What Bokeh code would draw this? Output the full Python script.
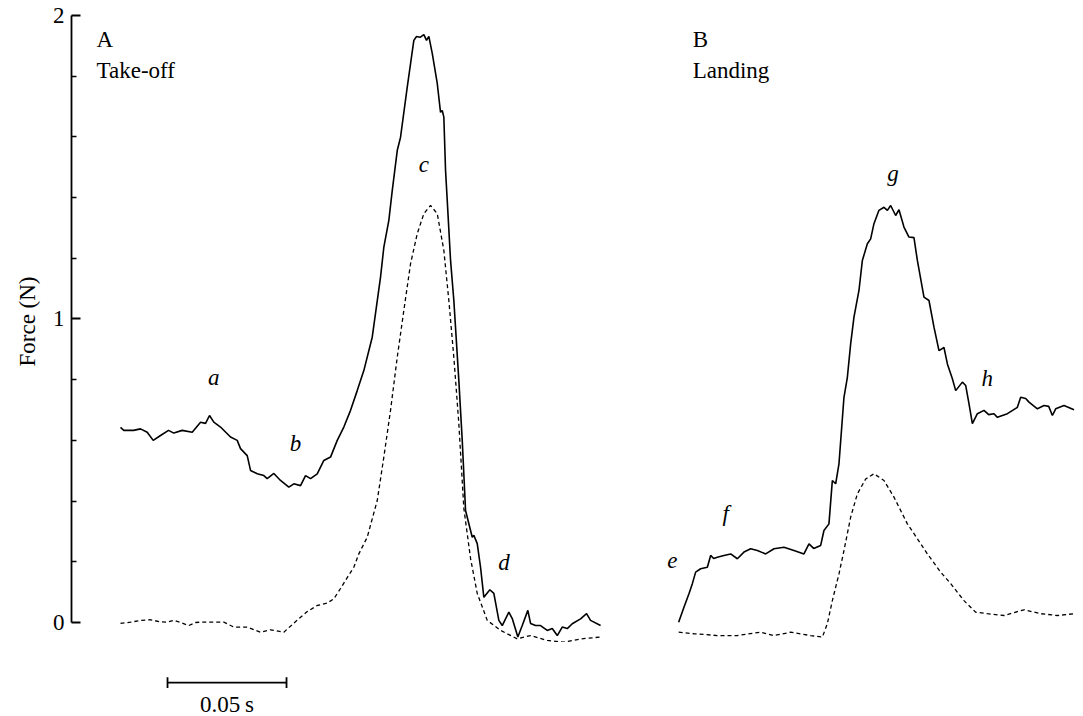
from bokeh.plotting import figure
from bokeh.layouts import column
from bokeh.models import Range1d, FixedTicker, ColumnDataSource
from bokeh.embed import file_html
from bokeh.resources import INLINE
from bokeh.core.properties import value

# ---------------- data (time in ms from start of each record, force in N) ----------------
# Panel A: take-off
a_solid_t = [0.0, 1.39, 5.46, 8.40, 11.22, 13.74, 16.81, 20.17, 22.40, 25.93, 30.13, 33.62, 35.72,
             37.40, 39.20, 42.02, 46.22, 49.04, 50.42, 53.24, 54.63, 57.44, 60.21, 61.64, 64.42,
             67.23, 70.72, 72.82, 75.64, 77.74, 79.84, 82.65, 85.43, 88.24, 91.06, 93.83, 96.65,
             99.46, 102.23, 105.76, 109.25, 110.64, 112.74, 114.17, 116.27, 117.66, 120.47, 123.24,
             124.38, 125.85, 127.44, 128.58, 129.55, 130.98, 133.08, 134.46, 135.18, 135.85, 136.57,
             137.28, 138.67, 140.05, 142.15, 143.58, 144.97, 147.78, 148.46, 149.88, 151.27, 152.66,
             155.18, 156.86, 158.96, 160.39, 163.16, 164.59, 166.94, 168.79, 171.14, 172.28, 174.38,
             176.48, 179.30, 181.40, 183.50, 185.60, 187.70, 189.80, 193.29, 195.81, 197.49, 201.70]
a_solid_f = [0.643, 0.633, 0.633, 0.638, 0.627, 0.600, 0.616, 0.633, 0.624, 0.633, 0.627, 0.660, 0.656,
             0.682, 0.660, 0.644, 0.611, 0.600, 0.573, 0.550, 0.501, 0.490, 0.484, 0.474, 0.491,
             0.468, 0.446, 0.457, 0.451, 0.484, 0.474, 0.490, 0.534, 0.545, 0.600, 0.644, 0.699,
             0.764, 0.830, 0.940, 1.138, 1.237, 1.325, 1.423, 1.555, 1.599, 1.764, 1.918,
             1.931, 1.928, 1.937, 1.918, 1.931, 1.875, 1.776, 1.681, 1.687, 1.665, 1.489,
             1.390, 1.193, 1.061, 0.797, 0.600, 0.369, 0.281, 0.287, 0.260, 0.182, 0.083,
             0.108, 0.096, 0.007, -0.010, 0.034, 0.013, -0.048, -0.010, 0.040, -0.003, -0.010,
             -0.010, -0.026, -0.020, -0.043, -0.015, -0.020, -0.004, 0.012, 0.029, 0.007, -0.010]
a_dot_t = [0, 4.20, 8.40, 12.61, 16.81, 19.62, 22.40, 25.21, 28.70, 31.52, 33.62, 37.82, 43.41, 47.61,
           53.24, 58.83, 63.03, 68.62, 72.82, 78.45, 82.65, 86.85, 89.63, 92.44, 95.26, 98.03, 100.13,
           103.66, 107.87, 110.64, 113.45, 116.27, 119.04, 121.86, 124.67, 127.44, 130.26, 133.08,
           135.85, 137.95, 140.05, 142.15, 144.25, 147.07, 149.88, 154.09, 159.68, 166.69, 172.28,
           179.30, 186.28, 193.29, 201.70]
a_dot_f = [-0.003, 0.001, 0.007, 0.009, 0.002, 0.001, 0.007, 0.000, -0.010, 0.000, 0.001, 0.001, 0.001,
           -0.015, -0.015, -0.032, -0.024, -0.032, -0.002, 0.036, 0.056, 0.064, 0.078, 0.112, 0.148,
           0.182, 0.226, 0.281, 0.402, 0.545, 0.699, 0.874, 1.028, 1.182, 1.281, 1.347, 1.374, 1.347,
           1.226, 1.061, 0.874, 0.655, 0.376, 0.211, 0.096, 0.007, -0.026, -0.054, -0.043, -0.059,
           -0.065, -0.054, -0.048]

# Panel B: landing
b_solid_t = [0.0, 2.23, 4.33, 5.76, 7.14, 9.24, 12.06, 13.45, 14.71, 16.26, 19.04, 21.85, 24.67, 27.44,
             30.26, 33.07, 36.56, 40.05, 44.25, 48.45, 52.65, 54.76, 56.73, 59.67, 61.05, 63.15, 64.58,
             65.97, 67.36, 69.46, 70.89, 72.27, 73.66, 75.76, 77.19, 79.29, 80.68, 82.06, 84.16, 86.27,
             87.70, 89.08, 91.18, 92.57, 94.67, 96.77, 98.87, 100.30, 103.07, 105.18, 107.28, 109.38,
             111.48, 112.91, 115.01, 116.40, 119.21, 120.60, 121.98, 123.41, 125.51, 128.29, 130.26,
             132.49, 133.92, 138.12, 142.32, 143.71, 145.81, 147.20, 150.73, 153.50, 155.48, 157.03,
             158.42, 161.91, 166.11]
b_solid_f = [0.001, 0.050, 0.095, 0.128, 0.166, 0.177, 0.182, 0.221, 0.211, 0.215, 0.221, 0.226, 0.210,
             0.232, 0.243, 0.237, 0.226, 0.243, 0.248, 0.237, 0.226, 0.259, 0.244, 0.254, 0.303, 0.325,
             0.468, 0.457, 0.523, 0.742, 0.808, 0.918, 1.006, 1.094, 1.193, 1.248, 1.264, 1.314, 1.358,
             1.368, 1.358, 1.374, 1.341, 1.360, 1.303, 1.270, 1.268, 1.193, 1.072, 1.061, 0.973, 0.896,
             0.906, 0.852, 0.803, 0.764, 0.792, 0.781, 0.721, 0.655, 0.688, 0.699, 0.685, 0.688, 0.676,
             0.688, 0.709, 0.742, 0.738, 0.726, 0.704, 0.715, 0.712, 0.682, 0.704, 0.715, 0.701]
b_dot_t = [0, 6.43, 16.26, 24.67, 34.46, 40.05, 47.06, 55.46, 60.38, 62.48, 64.58, 67.36, 69.46, 72.27,
           75.09, 78.58, 82.06, 86.27, 90.47, 96.10, 100.30, 104.50, 110.09, 114.29, 119.88, 124.80,
           129.72, 136.69, 145.09, 152.11, 159.12, 166.11]
b_dot_f = [-0.032, -0.037, -0.043, -0.043, -0.032, -0.043, -0.032, -0.043, -0.048, -0.004, 0.072, 0.160,
           0.237, 0.347, 0.424, 0.473, 0.490, 0.468, 0.413, 0.325, 0.276, 0.226, 0.166, 0.128, 0.072,
           0.034, 0.029, 0.023, 0.042, 0.029, 0.023, 0.029]

B_OFFSET = 234.5  # ms, horizontal placement of panel B

# phase letters (letter, time ms, force N)
a_letters = ["a", "b", "c", "d"]
a_letter_t = [39.2, 73.5, 127.4, 161.1]
a_letter_f = [0.784, 0.567, 1.487, 0.174]
b_letters = ["e", "f", "g", "h"]
b_letter_t = [-2.65, 19.75, 90.07, 129.7]
b_letter_f = [0.182, 0.336, 1.456, 0.781]

panel_titles = ["A", "Take-off", "B", "Landing"]

y_ticks = [0, 1, 2]
y_minor = [0.2, 0.4, 0.6, 0.8, 1.2, 1.4, 1.6, 1.8]
y_label = "Force (N)"

SCALE_START, SCALE_LEN = 19.75, 50.0   # ms
SCALE_Y = -0.198
scale_text = "0.05\u2009s"

# ---------------- figures ----------------
FONT = "Liberation Serif"
FS = "23px"
TXT_DY = -7   # px correction of the SVG text baseline

x_rng = Range1d(-20.59, 404.6)

p = figure(width=1083, height=642, output_backend="svg", toolbar_location=None,
           x_range=x_rng, y_range=Range1d(-0.0659, 2.0494),
           x_axis_location=None, y_axis_location="left",
           min_border_left=71, min_border_right=0, min_border_top=0, min_border_bottom=0)
p.outline_line_color = None
p.grid.visible = False
p.background_fill_color = "white"
p.border_fill_color = "white"

ax = p.yaxis[0]
ax.bounds = (0, 2)
ax.ticker = FixedTicker(ticks=y_ticks, minor_ticks=y_minor)
ax.major_tick_in = 9
ax.major_tick_out = 0
ax.minor_tick_in = 5
ax.minor_tick_out = 0
ax.axis_line_width = 1.8
ax.major_tick_line_width = 1.8
ax.minor_tick_line_width = 1.5
ax.axis_line_color = "black"
ax.major_tick_line_color = "black"
ax.minor_tick_line_color = "black"
ax.major_label_text_font = FONT
ax.major_label_text_font_size = FS
ax.major_label_text_color = "black"
ax.major_label_standoff = 7
ax.axis_label = y_label
ax.axis_label_text_font = FONT
ax.axis_label_text_font_size = FS
ax.axis_label_text_font_style = "normal"
ax.axis_label_text_color = "black"
ax.axis_label_standoff = 10

# traces
p.line(a_solid_t, a_solid_f, line_color="black", line_width=1.6)
p.line(a_dot_t, a_dot_f, line_color="black", line_width=1.3, line_dash="4 3")
p.line([t + B_OFFSET for t in b_solid_t], b_solid_f, line_color="black", line_width=1.6)
p.line([t + B_OFFSET for t in b_dot_t], b_dot_f, line_color="black", line_width=1.3, line_dash="4 3")

# phase letters
letters_src = ColumnDataSource(dict(
    x=a_letter_t + [t + B_OFFSET for t in b_letter_t],
    y=a_letter_f + b_letter_f,
    txt=a_letters + b_letters))
p.text(x="x", y="y", text="txt", source=letters_src, text_font=value(FONT),
       text_font_size=FS, text_font_style="italic", text_align="center",
       text_baseline="alphabetic", text_color="black", y_offset=TXT_DY)

# panel titles
titles_src = ColumnDataSource(dict(
    x=[-10.08, -10.08, 240.4, 240.4],
    y=[1.897, 1.796, 1.897, 1.796],
    txt=panel_titles))
p.text(x="x", y="y", text="txt", source=titles_src, text_font=value(FONT),
       text_font_size=FS, text_align="left", text_baseline="alphabetic", text_color="black",
       y_offset=TXT_DY)

# ---- strip below: time scale bar ----
s = figure(width=1083, height=74, output_backend="svg", toolbar_location=None,
           x_range=x_rng, y_range=Range1d(-0.3097, -0.0659),
           x_axis_location=None, y_axis_location=None,
           min_border_left=71, min_border_right=0, min_border_top=0, min_border_bottom=0)
s.outline_line_color = None
s.grid.visible = False
s.background_fill_color = "white"
s.border_fill_color = "white"

s.line([SCALE_START, SCALE_START + SCALE_LEN], [SCALE_Y, SCALE_Y], line_color="black", line_width=1.8)
s.segment(x0=[SCALE_START, SCALE_START + SCALE_LEN], y0=[SCALE_Y - 0.018, SCALE_Y - 0.018],
          x1=[SCALE_START, SCALE_START + SCALE_LEN], y1=[SCALE_Y + 0.018, SCALE_Y + 0.018],
          line_color="black", line_width=1.8)
s.text(x=[SCALE_START + SCALE_LEN / 2], y=[-0.2932], text=[scale_text], text_font=value(FONT),
       text_font_size=FS, text_align="center", text_baseline="alphabetic", text_color="black",
       y_offset=TXT_DY)

layout = column(p, s, spacing=0)
open("out.html", "w").write(file_html(layout, INLINE))
